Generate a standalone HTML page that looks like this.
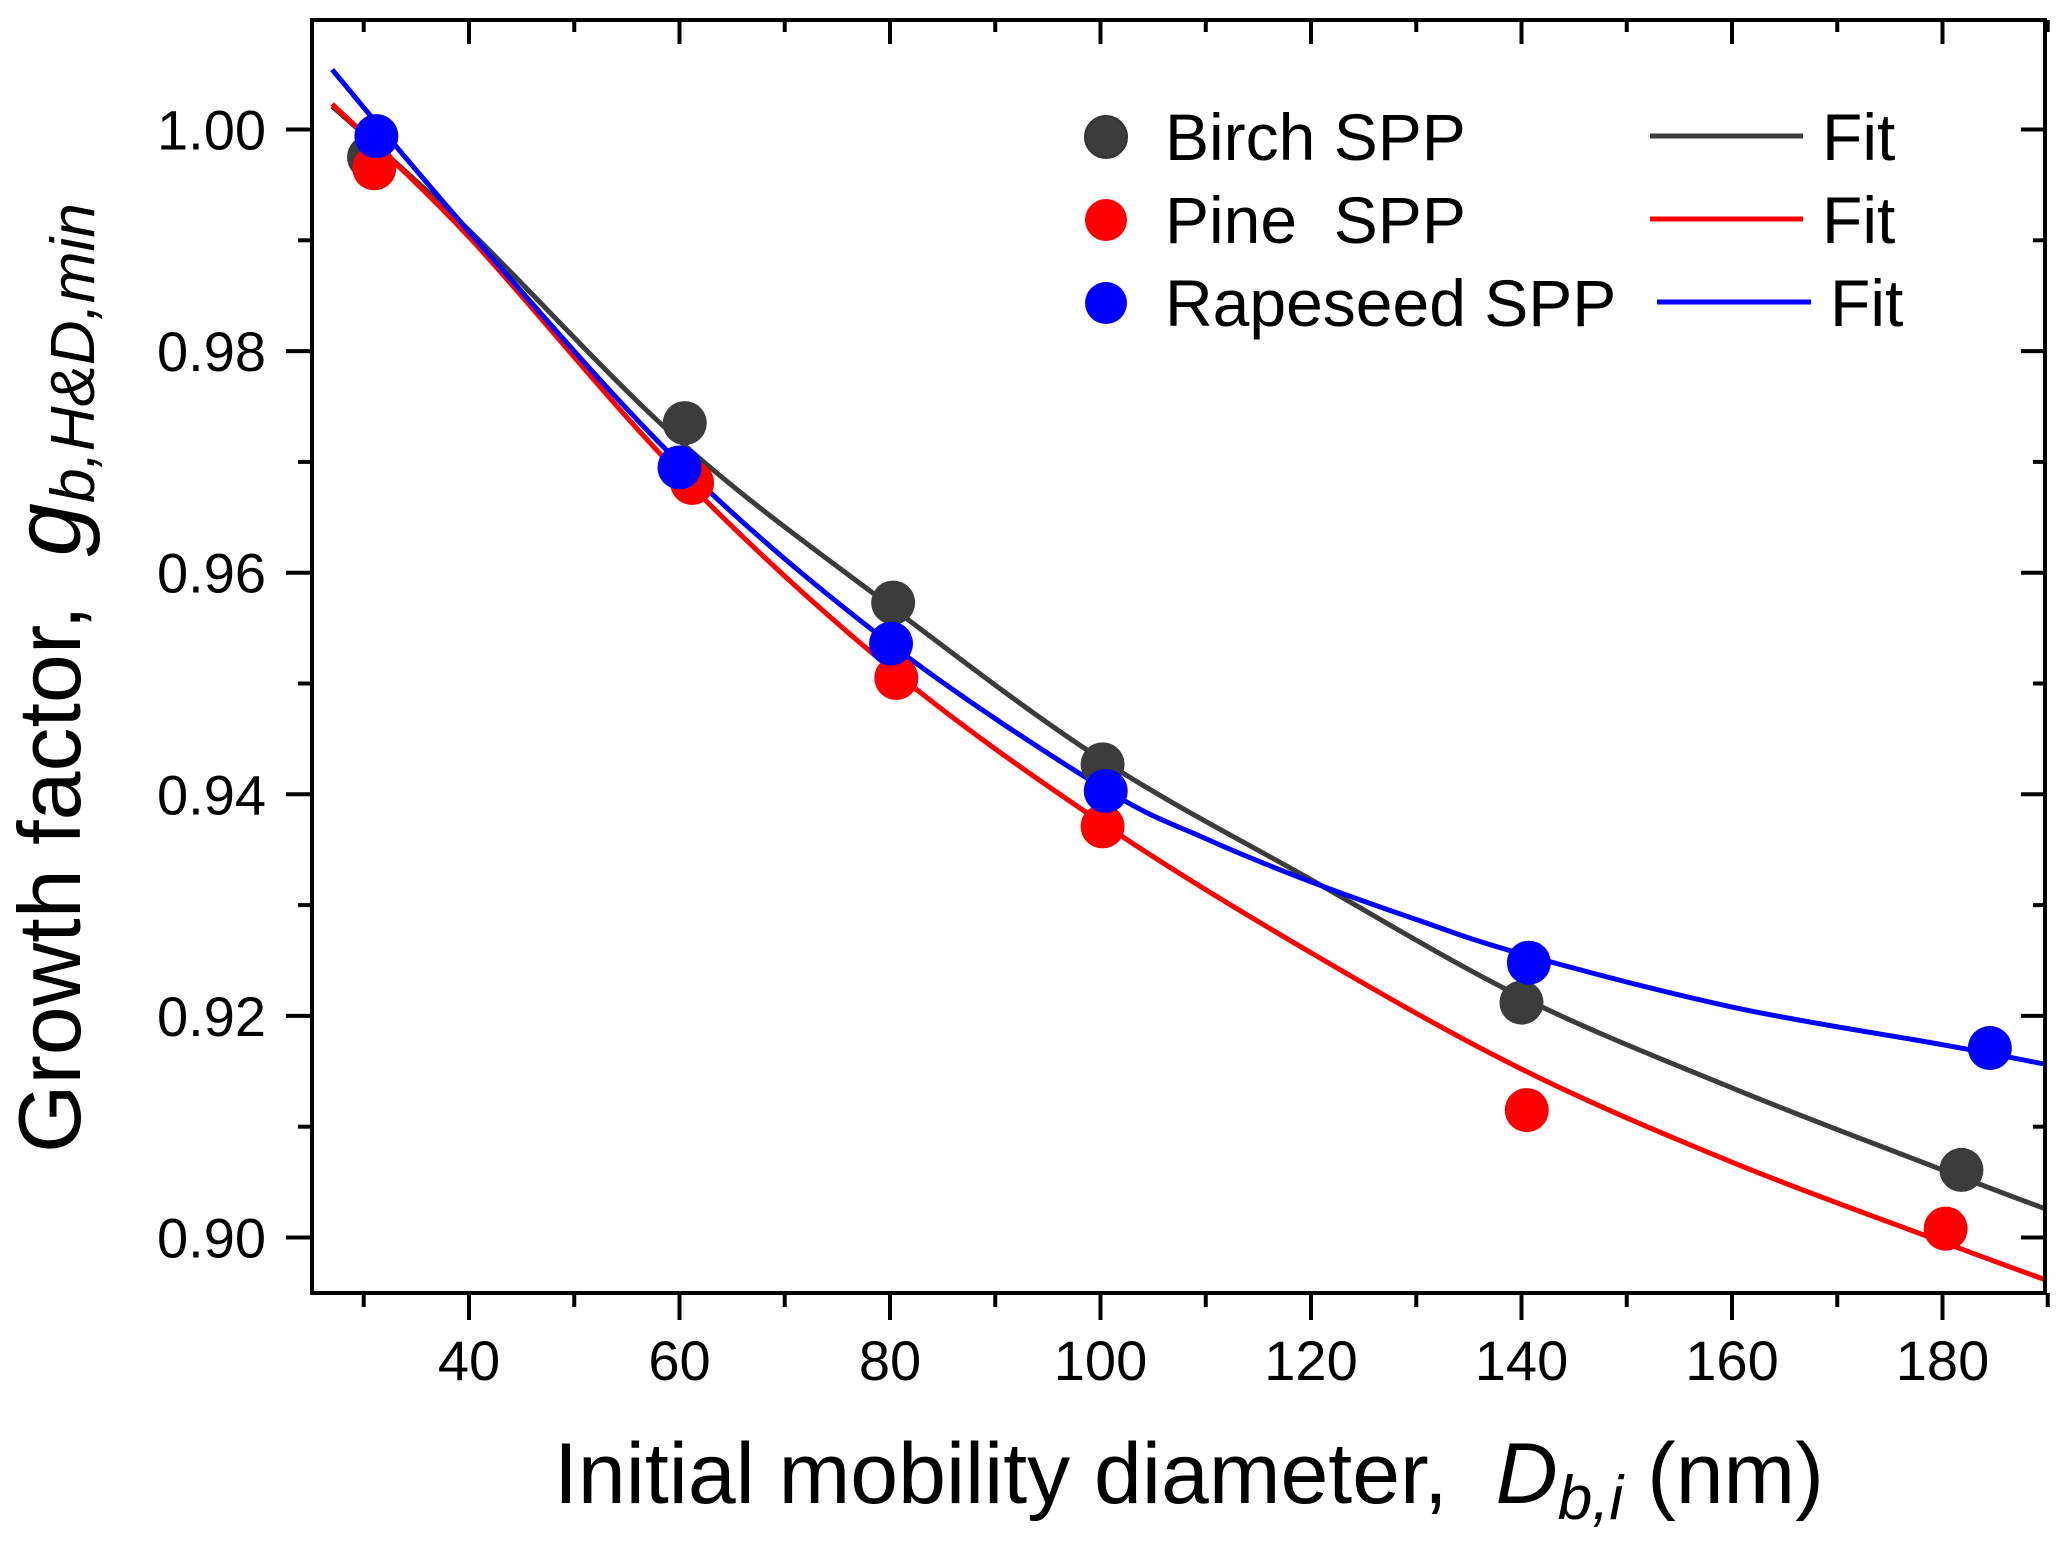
<!DOCTYPE html>
<html><head><meta charset="utf-8"><style>
html,body{margin:0;padding:0;background:#fff;}
svg{display:block;font-family:"Liberation Sans",Arial,sans-serif;}
</style></head><body>
<svg id="chart" width="2067" height="1553" viewBox="0 0 2067 1553" xmlns="http://www.w3.org/2000/svg">
<rect width="2067" height="1553" fill="#fff"/>
<g id="fits"></g>
<g id="points"></g>
<g id="axes"></g>
<text transform="translate(80,1153) rotate(-90)" font-size="88" fill="#000" xml:space="preserve">Growth factor,  <tspan font-style="italic" font-size="96">g</tspan><tspan font-style="italic" font-size="62" dy="14">b,H&amp;D,min</tspan></text>
<text x="554" y="1503" font-size="86" fill="#000" xml:space="preserve">Initial mobility diameter,  <tspan font-style="italic">D</tspan><tspan font-style="italic" font-size="62" dy="16">b,i</tspan><tspan dy="-16"> (nm)</tspan></text>
<g font-size="66" fill="#000">
<circle cx="1106" cy="137" r="21" fill="#3c3c3c" stroke="#333" stroke-width="2"/>
<text x="1165" y="160">Birch SPP</text>
<circle cx="1106" cy="220" r="21" fill="#ff0000"/>
<text x="1165" y="243" xml:space="preserve">Pine  SPP</text>
<circle cx="1106" cy="303" r="21" fill="#0000ff"/>
<text x="1165" y="326">Rapeseed SPP</text>
<line x1="1650" y1="136" x2="1803" y2="136" stroke="#3c3c3c" stroke-width="5"/>
<text x="1822" y="160">Fit</text>
<line x1="1650" y1="219" x2="1803" y2="219" stroke="#ff0000" stroke-width="5"/>
<text x="1822" y="243">Fit</text>
<line x1="1657" y1="302" x2="1811" y2="302" stroke="#0000ff" stroke-width="5"/>
<text x="1830" y="326">Fit</text>
</g>
</svg>
<script>
const birchX=[30.5,60.5,80.3,100.2,140,181.8];
const birchY=[0.9975,0.9735,0.9573,0.9427,0.9212,0.9061];
const pineX=[31,61.2,80.6,100.2,140.5,180.3];
const pineY=[0.9965,0.9681,0.9505,0.9371,0.9115,0.9008];
const rapeX=[31.2,60,80.1,100.5,140.7,184.5];
const rapeY=[0.9994,0.9695,0.9536,0.9403,0.9248,0.9171];
const fitX=[27,40,60,80,100,120,140,160,180,190];
const birchFit=[1.0021,0.9909,0.9719,0.9570,0.9432,0.9323,0.9217,0.9135,0.9061,0.9025];
const pineFit=[1.0023,0.9903,0.9689,0.9514,0.9375,0.9257,0.9152,0.9068,0.8996,0.8961];
const rapeFitX=[27,40,60,80,100,110,120,130,140,160,180,190];
const rapeFit=[1.0054,0.9908,0.9699,0.9536,0.9407,0.9360,0.9321,0.9287,0.9256,0.9208,0.9174,0.9156];
const xTicks=[40,60,80,100,120,140,160,180];
const yTicks=[0.90,0.92,0.94,0.96,0.98,1.00];
const yTickLabels=["0.90","0.92","0.94","0.96","0.98","1.00"];

const NS="http://www.w3.org/2000/svg";
const L=312,R=2045,T=20,B=1293;
function sx(v){return 469+(v-40)*10.525;}
function sy(v){return 129.5+(1-v)*11080;}
function mk(tag,attrs,parent){const e=document.createElementNS(NS,tag);for(const k in attrs)e.setAttribute(k,attrs[k]);parent.appendChild(e);return e;}

const fits=document.getElementById('fits');
const clip=mk('clipPath',{id:'pc'},fits);mk('rect',{x:L,y:T,width:R-L,height:B-T},clip);
function curve(xs,ys){
  const p=xs.map((x,i)=>[sx(x),sy(ys[i])]);
  let d='M'+p[0][0]+','+p[0][1];
  for(let i=0;i<p.length-1;i++){
    const p0=p[Math.max(0,i-1)],p1=p[i],p2=p[i+1],p3=p[Math.min(p.length-1,i+2)];
    const c1=[p1[0]+(p2[0]-p0[0])/6,p1[1]+(p2[1]-p0[1])/6];
    const c2=[p2[0]-(p3[0]-p1[0])/6,p2[1]-(p3[1]-p1[1])/6];
    d+=' C'+c1+' '+c2+' '+p2;
  }
  return d;
}
const series=[
 {n:'birch',c:'#3c3c3c',fxs:fitX,fx:birchFit,px:birchX,py:birchY},
 {n:'pine',c:'#ff0000',fxs:fitX,fx:pineFit,px:pineX,py:pineY},
 {n:'rapeseed',c:'#0000ff',fxs:rapeFitX,fx:rapeFit,px:rapeX,py:rapeY}];
series.forEach(s=>{
  const path=mk('path',{d:curve(s.fxs,s.fx),fill:'none',stroke:s.c,'stroke-width':5,'clip-path':'url(#pc)'},fits);
  
  
});
const pts=document.getElementById('points');
series.forEach(s=>{
  s.px.forEach((x,i)=>{
    const c=mk('circle',{cx:sx(x),cy:sy(s.py[i]),r:22,fill:s.c},pts);
    
    
  });
});
const ax=document.getElementById('axes');
const frame=mk('rect',{x:L,y:T,width:R-L,height:B-T,fill:'none',stroke:'#000','stroke-width':4},ax);


for(let v=30;v<=190;v+=10){
  const major=v%20===0, x=sx(v);
  const t=mk('line',{x1:x,y1:B,x2:x,y2:B+(major?27:14),stroke:'#000','stroke-width':4},ax);
  
  
  const t2=mk('line',{x1:x,y1:T,x2:x,y2:T+(major?24:12),stroke:'#000','stroke-width':4},ax);
  
  
}
xTicks.forEach(v=>{
  const t=mk('text',{x:sx(v),y:1380,'font-size':56,'text-anchor':'middle'},ax);
  t.textContent=v;
  
  
});
for(let k=0;k<=10;k++){
  const v=0.90+k*0.01, y=sy(v), major=k%2===0;
  const t=mk('line',{x1:L-(major?26:14),y1:y,x2:L,y2:y,stroke:'#000','stroke-width':4},ax);
  
  
  const t2=mk('line',{x1:R-(major?24:12),y1:y,x2:R,y2:y,stroke:'#000','stroke-width':4},ax);
  
  
}
yTicks.forEach((v,i)=>{
  const t=mk('text',{x:266,y:sy(v)+20,'font-size':56,'text-anchor':'end'},ax);
  t.textContent=yTickLabels[i];
  
  
});
</script>
</body></html>
